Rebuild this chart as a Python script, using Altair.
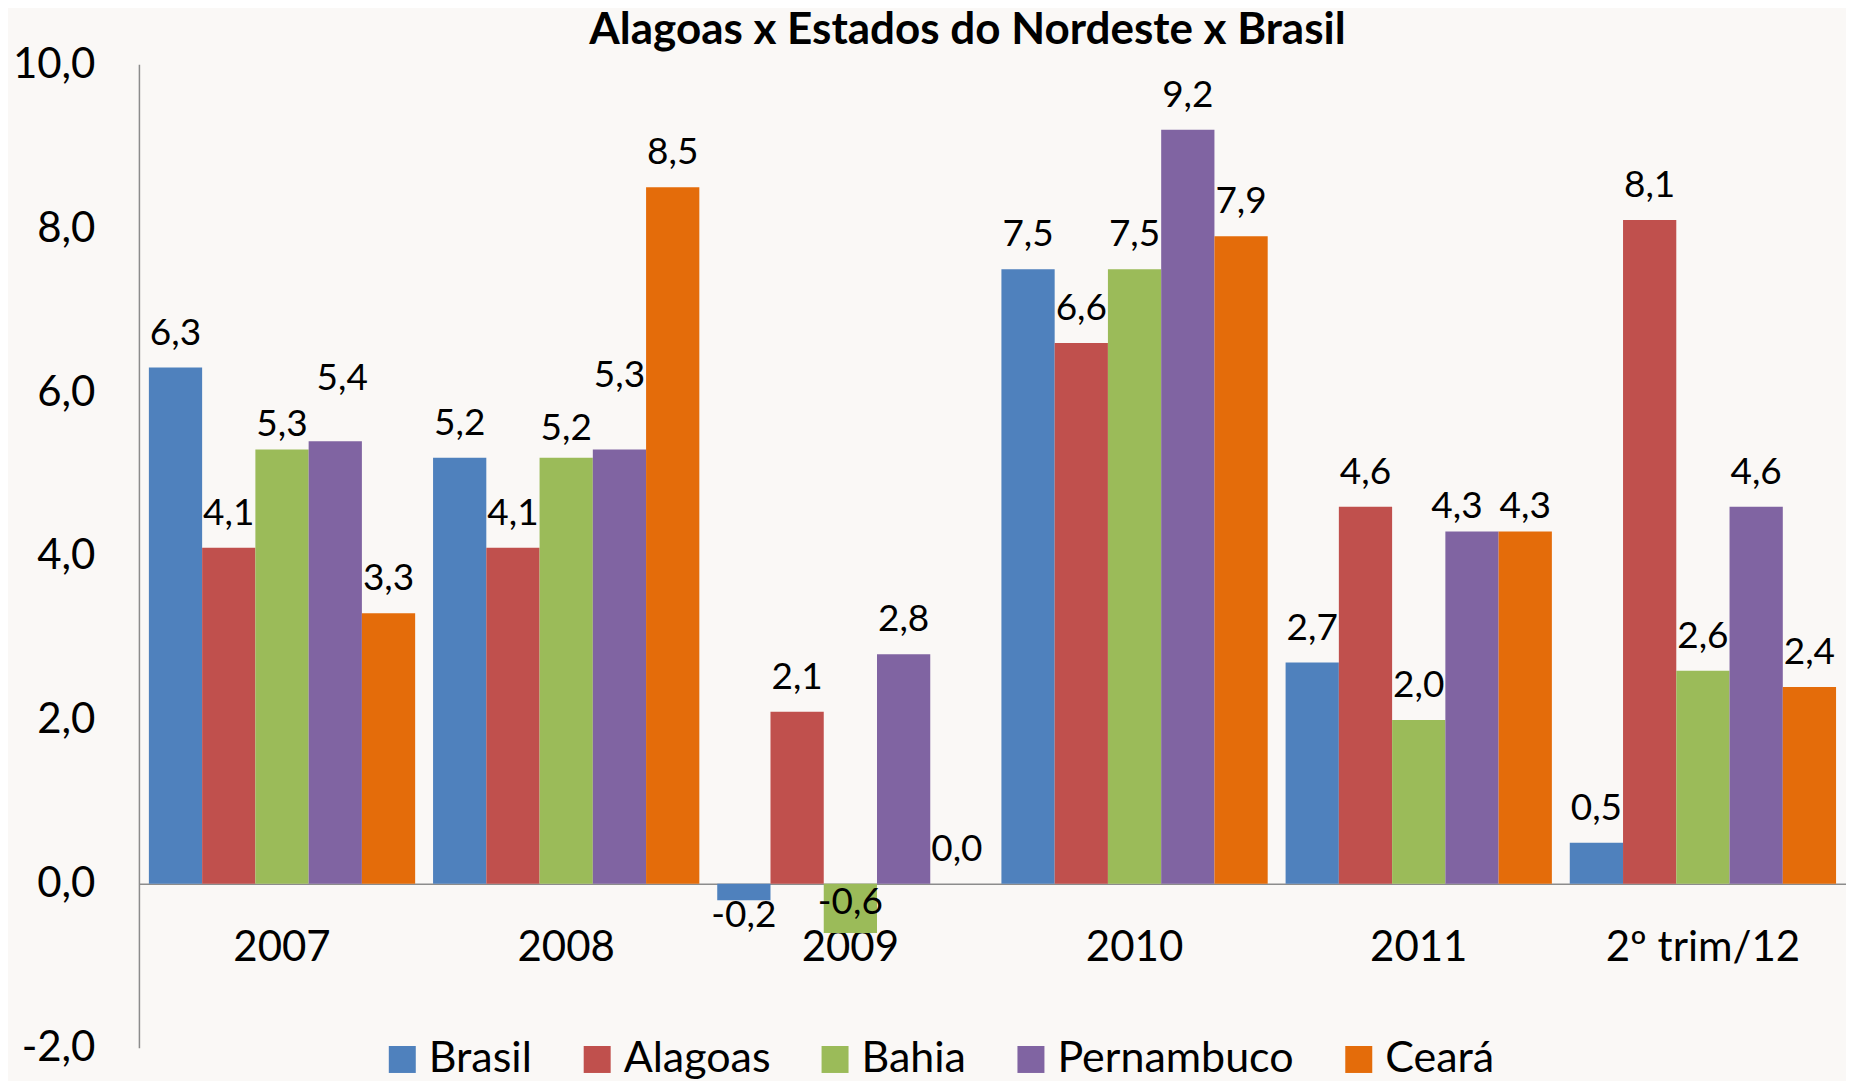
import altair as alt
import pandas as pd

# ---- data ----
categorias = ["2007", "2008", "2009", "2010", "2011", "2º trim/12"]
series = ["Brasil", "Alagoas", "Bahia", "Pernambuco", "Ceará"]
brasil = [6.3, 5.2, -0.2, 7.5, 2.7, 0.5]
alagoas = [4.1, 4.1, 2.1, 6.6, 4.6, 8.1]
bahia = [5.3, 5.2, -0.6, 7.5, 2.0, 2.6]
pernambuco = [5.4, 5.3, 2.8, 9.2, 4.3, 4.6]
ceara = [3.3, 8.5, 0.0, 7.9, 4.3, 2.4]
titulo = "Alagoas x Estados do Nordeste x Brasil"

# ---- style ----
cores = ["#4F81BD", "#C0504D", "#9BBB59", "#8064A2", "#E46C0A"]
# a few labels were moved by hand in the original
# vertical: data units (+ = up); horizontal: pixels
ajuste_rotulo = {
    ("2007", "Bahia"): -0.12,
    ("2007", "Pernambuco"): 0.34,
    ("2008", "Bahia"): -0.07,
    ("2008", "Pernambuco"): 0.48,
    ("2009", "Bahia"): 0.56,
    ("2011", "Pernambuco"): -0.12,
    ("2011", "Ceará"): -0.12,
}
desloc_x = {("2007", "Pernambuco"): 7, ("2011", "Pernambuco"): -15}

valores = {"Brasil": brasil, "Alagoas": alagoas, "Bahia": bahia,
           "Pernambuco": pernambuco, "Ceará": ceara}
rows = []
for s in series:
    for c, v in zip(categorias, valores[s]):
        rows.append({"categoria": c, "serie": s, "valor": v,
                     "ajuste": ajuste_rotulo.get((c, s), 0.0),
                     "dx": desloc_x.get((c, s), 0)})
df = pd.DataFrame(rows)

FONT = "Lato"
fmt = "replace(replace(format(%s, '.1f'), '.', ','), '\u2212', '-')"

x_enc = alt.X(
    "categoria:N", sort=categorias, title=None,
    scale=alt.Scale(paddingInner=0.063, paddingOuter=0.035),
    axis=alt.Axis(orient="bottom", offset=-164, labelAngle=0, ticks=False,
                  domainColor="#8C8C8C", domainWidth=1.5, labelPadding=44,
                  labelFontSize=42, labelFont=FONT, labelColor="#000000",
                  labelLimit=500),
)
xo_enc = alt.XOffset("serie:N", sort=series,
                     scale=alt.Scale(paddingInner=0, paddingOuter=0))
y_axis = alt.Axis(values=[-2, 0, 2, 4, 6, 8, 10], labelExpr=fmt % "datum.value",
                  ticks=False, grid=False, domainColor="#8C8C8C", domainWidth=1.5,
                  labelPadding=44, labelFontSize=42, labelFont=FONT,
                  labelColor="#000000")
y_scale = alt.Scale(domain=[-2, 10], nice=False, zero=False)

bars = alt.Chart(df).mark_bar().encode(
    x=x_enc,
    xOffset=xo_enc,
    y=alt.Y("valor:Q", scale=y_scale, axis=y_axis, title=None),
    color=alt.Color(
        "serie:N", sort=series,
        scale=alt.Scale(domain=series, range=cores),
        legend=alt.Legend(
            title=None, orient="none", direction="horizontal",
            legendX=242, legendY=974, symbolType="square", symbolSize=729,
            symbolStrokeWidth=0, symbolOpacity=1, labelFontSize=43,
            labelFont=FONT, labelColor="#000000", labelOffset=5,
            columnPadding=43, padding=0, labelLimit=500,
        ),
    ),
)

def rotulos(cond, dx, dy):
    return alt.Chart(df).transform_filter(cond).transform_calculate(
        rotulo=fmt % "datum.valor",
        rotulo_y="datum.valor + datum.ajuste",
    ).mark_text(
        dx=dx, dy=dy, baseline="alphabetic", align="center", fontSize=37,
        font=FONT, color="#000000",
    ).encode(
        x=x_enc,
        xOffset=xo_enc,
        y=alt.Y("rotulo_y:Q", scale=y_scale, axis=y_axis, title=None),
        text="rotulo:N",
    )

camadas = [bars]
for dxv in sorted(set(df["dx"])):
    camadas.append(rotulos(f"datum.valor >= 0 && datum.dx == {dxv}", dxv, -23))
    camadas.append(rotulos(f"datum.valor < 0 && datum.dx == {dxv}", dxv, 27))

chart = alt.layer(*camadas).properties(
    width=1708, height=984,
    title=alt.TitleParams(text=titulo, font=FONT, fontSize=44, fontWeight="bold",
                          anchor="middle", dx=-25, dy=26, offset=16,
                          color="#000000"),
    autosize=alt.AutoSizeParams(type="none"),
    padding={"left": 131, "top": 56, "right": 0, "bottom": 33},
    background="#FAF8F6",
).configure_view(stroke=None)

chart.save("out.html", embed_options={"renderer": "svg", "actions": False})
